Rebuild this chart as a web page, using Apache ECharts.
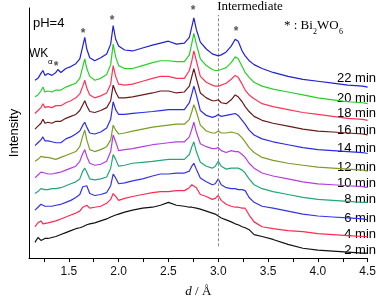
<!DOCTYPE html>
<html>
<head>
<meta charset="utf-8">
<script src="https://cdn.jsdelivr.net/npm/echarts@6/dist/echarts.min.js"></script>
<style>html,body{margin:0;padding:0;background:#fff}#c{width:379px;height:303px}</style>
</head>
<body>
<div id="c"></div>
<script>
// d spacing (Å)
const dValues = [1.16,1.19,1.22,1.24,1.26,1.29,1.33,1.37,1.39,1.42,
  1.47,1.52,1.57,1.61,1.64,1.66,1.68,1.71,1.76,1.82,
  1.88,1.92,1.945,1.97,2.00,2.06,2.14,2.24,2.34,2.42,
  2.50,2.58,2.66,2.71,2.735,2.755,2.78,2.82,2.88,2.94,
  2.97,3.00,3.03,3.08,3.13,3.17,3.20,3.24,3.27,3.31,
  3.36,3.44,3.55,3.70,3.85,4.00,4.15,4.30,4.45,4.50];

// stacked intensities (arb. units, offset included)
const int2 = [16,21,18,19,20,20,21,22,22,24,
  26,28,30,31,32,33,34,35,36,38,
  40,42,43,44,45,47,49,51,52,54,
  57,54,53,52,52,51,51,50,48,46,
  45,43,41,39,37,35,34,32,31,29,
  24,22,19,14,10,8,7,6,5,5];
const int4 = [32,36,38,35,36,36,37,38,39,40,
  42,44,46,48,52,51,54,51,52,53,
  56,60,66,63,59,61,63,65,67,68,
  68,69,69,72,75,76,72,65,63,60,
  61,64,59,55,53,52,52,51,51,44,
  37,32,30,28,27,25,24,23,22,22];
const int6 = [49,52,55,57,53,53,53,54,54,55,
  57,59,62,65,73,71,74,66,64,65,
  67,74,86,82,76,77,79,81,84,86,
  86,87,87,89,94,97,91,82,78,75,
  76,81,75,72,71,71,70,70,69,62,
  57,53,51,48,45,43,42,41,40,39];
const int8 = [66,68,71,73,70,70,71,71,72,72,
  74,76,78,81,89,92,88,81,80,81,
  83,92,106,101,94,95,97,98,99,100,
  101,101,101,106,114,119,109,98,94,92,
  94,99,94,91,92,92,92,90,87,81,
  75,71,68,65,62,60,59,58,57,57];
const int10 = [82,85,88,90,87,86,86,87,87,88,
  90,92,94,99,107,111,104,97,95,96,
  99,109,126,119,110,111,112,114,116,117,
  118,119,119,124,132,139,129,117,114,112,
  112,113,110,108,110,109,109,106,103,97,
  92,87,84,81,78,76,75,74,73,72];
const int12 = [99,101,104,106,103,103,102,101,102,103,
  105,107,109,114,125,131,121,111,109,111,
  114,121,136,131,127,128,130,132,134,135,
  136,137,137,142,150,157,150,136,130,128,
  128,130,128,128,129,128,127,123,119,113,
  108,103,100,97,95,93,92,91,90,89];
const int14 = [115,118,121,124,120,120,119,118,119,118,
  122,124,127,130,136,139,134,128,127,129,
  133,142,160,152,147,147,148,149,150,151,
  152,152,152,159,168,176,167,151,146,144,
  145,147,145,146,147,148,146,141,137,131,
  126,122,119,116,113,111,110,109,108,107];
const int16 = [132,135,138,142,138,139,138,140,142,140,
  143,145,147,151,157,161,156,150,149,151,
  154,161,177,170,164,164,165,167,169,171,
  171,169,170,176,186,194,184,169,164,161,
  161,162,159,158,162,167,165,160,155,150,
  145,141,138,135,132,130,129,128,127,126];
const int18 = [148,151,154,158,154,155,154,156,158,156,
  159,161,164,168,176,182,174,167,164,166,
  169,178,197,186,178,177,178,181,184,186,
  186,184,184,192,202,212,202,186,180,177,
  176,176,177,179,183,187,185,178,172,167,
  163,158,155,152,149,147,145,143,142,141];
const int20 = [165,167,171,175,170,171,170,172,174,172,
  175,177,179,184,196,204,194,186,182,184,
  188,198,219,206,197,194,194,197,200,202,
  202,201,201,208,220,230,219,204,197,193,
  192,192,193,195,200,206,204,196,190,185,
  180,176,173,170,167,164,162,160,159,158];
const int22 = [182,184,189,192,187,189,187,190,193,190,
  194,196,199,204,217,226,214,205,202,205,
  209,219,238,224,217,213,212,215,218,220,
  222,219,220,226,237,246,234,221,214,209,
  208,207,208,211,217,224,222,212,207,202,
  198,194,190,186,183,181,179,177,176,175];

const timeLabels = ['2 min','4 min','6 min','8 min','10 min','12 min','14 min','16 min','18 min','20 min','22 min'];
const curves = [int2,int4,int6,int8,int10,int12,int14,int16,int18,int20,int22];
const colors = ['#111111','#ff2a50','#3434e6','#22a878','#b23ee2','#7c9c22','#2c2ce8','#6a1818','#ff3458','#26d026','#2020d4'];

const xTickValues = [1.25,1.5,1.75,2.0,2.25,2.5,2.75,3.0,3.25,3.5,3.75,4.0,4.25,4.5];
const xLabelValues = [1.5,2.0,2.5,3.0,3.5,4.0,4.5];
const intermediateD = 3.0;
const intermediateRange = [12, 249];

const chart = echarts.init(document.getElementById('c'), null, {renderer:'canvas'});

const series = curves.map((arr, k) => ({
  name: timeLabels[k],
  type: 'line',
  data: dValues.map((d, i) => [d, arr[i]]),
  showSymbol: false,
  symbol: 'none',
  lineStyle: {width: 1.2, color: colors[k]},
  itemStyle: {color: colors[k]},
  silent: true,
  z: 2 + k
}));
series[0].markLine = {
  silent: true,
  symbol: ['none','none'],
  label: {show: false},
  lineStyle: {type: [3,2], color: '#888', width: 1},
  data: [[{coord: [intermediateD, intermediateRange[0]]}, {coord: [intermediateD, intermediateRange[1]]}]]
};

const labelY = [250,234,218,199,183,167,148,130,113,98,78];
const graphics = [];
timeLabels.forEach((t, k) => {
  graphics.push({type:'text', x:376, y:labelY[k], style:{text:t, font:'13px "Liberation Sans"', fill:'#000', align:'right', verticalAlign:'middle'}});
});
const stars = [[56,67],[83,34],[112,21],[193,11],[236,32]];
stars.forEach(p => graphics.push({type:'text', x:p[0], y:p[1], style:{text:'*', font:'bold 12px "Liberation Sans"', fill:'#555', align:'center', verticalAlign:'middle'}}));
graphics.push({type:'text', x:33, y:23, style:{text:'pH=4', font:'13px "Liberation Sans"', fill:'#000', align:'left', verticalAlign:'middle'}});
graphics.push({type:'text', x:29, y:54, style:{text:'WK', font:'12px "Liberation Sans"', fill:'#000', align:'left', verticalAlign:'middle'}});
graphics.push({type:'text', x:48, y:62, style:{text:'α', font:'8px "Liberation Sans"', fill:'#000', align:'left', verticalAlign:'middle'}});
graphics.push({type:'text', x:250, y:7, style:{text:'Intermediate', font:'13px "Liberation Serif"', fill:'#000', align:'center', verticalAlign:'middle'}});
graphics.push({type:'text', x:284, y:26, style:{text:'* : Bi', font:'13px "Liberation Serif"', fill:'#000', align:'left', verticalAlign:'middle'}});
graphics.push({type:'text', x:313, y:32, style:{text:'2', font:'8px "Liberation Serif"', fill:'#000', align:'left', verticalAlign:'middle'}});
graphics.push({type:'text', x:317, y:26, style:{text:'WO', font:'13px "Liberation Serif"', fill:'#000', align:'left', verticalAlign:'middle'}});
graphics.push({type:'text', x:339, y:32, style:{text:'6', font:'8px "Liberation Serif"', fill:'#000', align:'left', verticalAlign:'middle'}});

chart.setOption({
  animation: false,
  backgroundColor: '#fff',
  grid: {left: 27, right: 10, top: 8, bottom: 39},
  xAxis: {
    type: 'value', min: 1.1, max: 4.5,
    name: '{i|d} / Å', nameLocation: 'middle', nameGap: 27,
    nameTextStyle: {fontFamily: 'Liberation Serif', fontSize: 13, color: '#000',
      rich: {i: {fontFamily: 'Liberation Serif', fontStyle: 'italic', fontSize: 13, color: '#000'}}},
    axisLine: {show: true, lineStyle: {color: '#000', width: 1}},
    axisTick: {show: true, inside: false, length: 4, lineStyle: {color: '#000'}, customValues: xTickValues},
    axisLabel: {customValues: xLabelValues, formatter: v => v.toFixed(1), fontFamily: 'Liberation Sans', fontSize: 12, color: '#111', margin: 8},
    splitLine: {show: false}
  },
  yAxis: {
    type: 'value', min: 0, max: 256,
    name: 'Intensity', nameLocation: 'middle', nameGap: 8,
    nameTextStyle: {fontFamily: 'Liberation Sans', fontSize: 13, color: '#000'},
    axisLine: {show: true, lineStyle: {color: '#000', width: 1}},
    axisTick: {show: false}, axisLabel: {show: false}, splitLine: {show: false}
  },
  series: series,
  graphic: graphics
});
</script>
</body>
</html>
